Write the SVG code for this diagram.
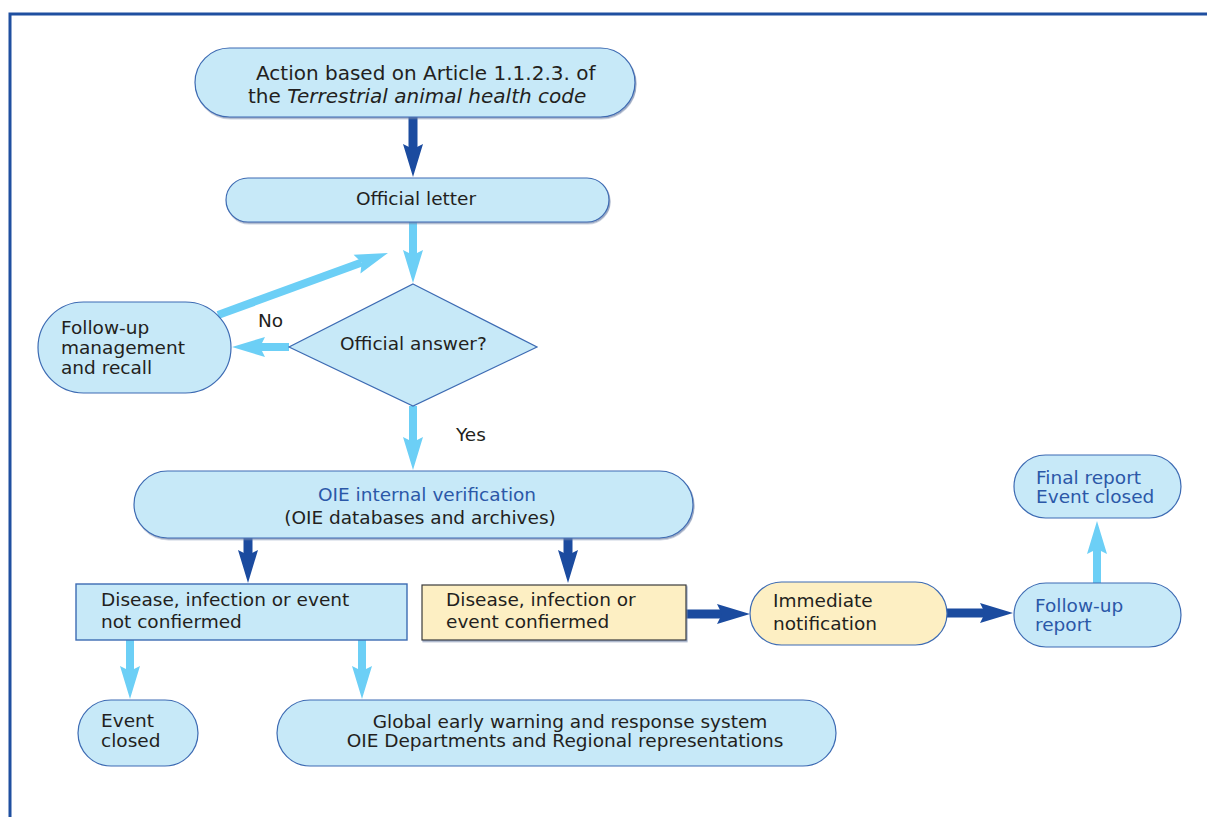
<svg xmlns="http://www.w3.org/2000/svg" width="1207" height="817" viewBox="0 0 1207 817">
<style>
.pill{fill:#c7e9f8;stroke:#3d6bb3;stroke-width:1.2}
.yel{fill:#fdefc3;stroke:#3d6bb3;stroke-width:1.2}
.yrect{fill:#fdefc3;stroke:#3a3a3a;stroke-width:1.2}
.brect{fill:#c7e9f8;stroke:#3d6bb3;stroke-width:1.4}
.t{font-family:"DejaVu Sans",sans-serif;font-size:18.5px;fill:#231f20}
.bt{fill:#2b58a8}
.lt{stroke:#6ccff6;stroke-width:8;fill:none}
.dk{stroke:#1b4b9f;stroke-width:9;fill:none}
.lt{marker-end:url(#ah-l)}
.dk{marker-end:url(#ah-d)}
</style>
<defs>
<filter id="sh" x="-5%" y="-10%" width="110%" height="125%">
<feDropShadow dx="1" dy="1.5" stdDeviation="0.6" flood-color="#6f84a8" flood-opacity="0.7"/>
</filter>
<marker id="ah-l" markerUnits="userSpaceOnUse" viewBox="0 -12 36 24" markerWidth="36" markerHeight="24" refX="5" refY="0" orient="auto">
<path d="M0,-10 L33,0 L0,10 L5,0 Z" fill="#6ccff6"/>
</marker>
<marker id="ah-d" markerUnits="userSpaceOnUse" viewBox="0 -12 36 24" markerWidth="36" markerHeight="24" refX="5" refY="0" orient="auto">
<path d="M0,-10 L33,0 L0,10 L5,0 Z" fill="#1b4b9f"/>
</marker>
</defs>
<rect x="0" y="0" width="1207" height="817" fill="#ffffff"/>
<path d="M1207,14 H10 V817" fill="none" stroke="#1f4fa0" stroke-width="3"/>

<g id="connectors">
<line class="dk" x1="413" y1="117" x2="413" y2="149"/>
<line class="lt" x1="413" y1="222" x2="413" y2="255"/>
<line class="lt" x1="218" y1="315" x2="361.7" y2="262.5"/>
<line class="lt" x1="289" y1="347" x2="260" y2="347"/>
<line class="lt" x1="413" y1="406" x2="413" y2="442"/>
<line class="dk" x1="248" y1="538" x2="248" y2="555"/>
<line class="dk" x1="568" y1="538" x2="568" y2="555"/>
<line class="dk" x1="686" y1="614" x2="722" y2="614"/>
<line class="dk" x1="947" y1="613" x2="985" y2="613"/>
<line class="lt" x1="1097" y1="583" x2="1097" y2="549"/>
<line class="lt" x1="130" y1="640" x2="130" y2="671"/>
<line class="lt" x1="362" y1="640" x2="362" y2="671"/>
<text class="t" x="258" y="327">No</text>
<text class="t" x="456" y="441">Yes</text>
</g>

<g id="n-action">
<rect class="pill" filter="url(#sh)" x="195" y="48" width="440" height="69" rx="34.5"/>
<text class="t" style="font-size:20px" x="256" y="80">Action based on Article 1.1.2.3. of</text>
<text class="t" style="font-size:20px" x="248" y="103">the <tspan font-style="italic">Terrestrial animal health code</tspan></text>
</g>

<g id="n-letter">
<rect class="pill" filter="url(#sh)" x="226" y="178" width="383" height="44" rx="22"/>
<text class="t" x="416" y="205" text-anchor="middle">Official letter</text>
</g>

<g id="n-answer">
<polygon class="pill" points="413,284 537,347 413,406 289,347"/>
<text class="t" x="340" y="350">Official answer?</text>
</g>

<g id="n-followup">
<rect class="pill" x="38" y="302" width="193" height="91" rx="45.5"/>
<text class="t" x="61" y="334">Follow-up</text>
<text class="t" x="61" y="354">management</text>
<text class="t" x="61" y="374">and recall</text>
</g>

<g id="n-verif">
<rect class="pill" filter="url(#sh)" x="134" y="471" width="559" height="67" rx="33.5"/>
<text class="t bt" x="427" y="501" text-anchor="middle">OIE internal verification</text>
<text class="t" x="420" y="524" text-anchor="middle">(OIE databases and archives)</text>
</g>

<g id="n-notconf">
<rect class="brect" x="76" y="584" width="331" height="56"/>
<text class="t" x="101" y="606">Disease, infection or event</text>
<text class="t" x="101" y="628">not confiermed</text>
</g>

<g id="n-conf">
<rect class="yrect" filter="url(#sh)" x="422" y="585" width="264" height="55"/>
<text class="t" x="446" y="606">Disease, infection or</text>
<text class="t" x="446" y="628">event confiermed</text>
</g>

<g id="n-immediate">
<rect class="yel" x="750" y="582" width="197" height="63" rx="31.5"/>
<text class="t" x="773" y="607">Immediate</text>
<text class="t" x="773" y="630">notification</text>
</g>

<g id="n-fureport">
<rect class="pill" x="1014" y="583" width="167" height="64" rx="32"/>
<text class="t bt" x="1035" y="612">Follow-up</text>
<text class="t bt" x="1035" y="631">report</text>
</g>

<g id="n-final">
<rect class="pill" x="1014" y="455" width="167" height="63" rx="31.5"/>
<text class="t bt" x="1036" y="484">Final report</text>
<text class="t bt" x="1036" y="503">Event closed</text>
</g>

<g id="n-evclosed">
<rect class="pill" x="78" y="700" width="120" height="66" rx="33"/>
<text class="t" x="101" y="727">Event</text>
<text class="t" x="101" y="747">closed</text>
</g>

<g id="n-global">
<rect class="pill" x="277" y="700" width="559" height="66" rx="33"/>
<text class="t" x="570" y="728" text-anchor="middle">Global early warning and response system</text>
<text class="t" x="565" y="747" text-anchor="middle">OIE Departments and Regional representations</text>
</g>
</svg>
